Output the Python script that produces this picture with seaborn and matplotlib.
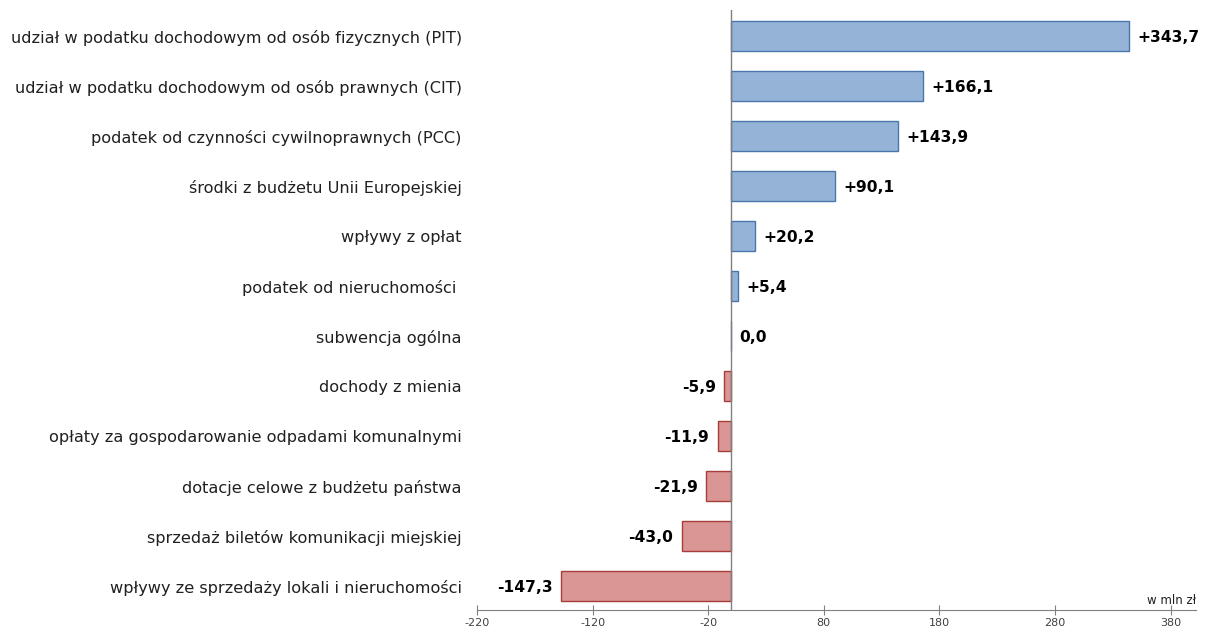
import pandas as pd
import numpy as np
import seaborn as sns
import matplotlib.pyplot as plt

# data (w mln zł)
categories = [
    "udział w podatku dochodowym od osób fizycznych (PIT)",
    "udział w podatku dochodowym od osób prawnych (CIT)",
    "podatek od czynności cywilnoprawnych (PCC)",
    "środki z budżetu Unii Europejskiej",
    "wpływy z opłat",
    "podatek od nieruchomości ",
    "subwencja ogólna",
    "dochody z mienia",
    "opłaty za gospodarowanie odpadami komunalnymi",
    "dotacje celowe z budżetu państwa",
    "sprzedaż biletów komunikacji miejskiej",
    "wpływy ze sprzedaży lokali i nieruchomości",
]
values = [343.7, 166.1, 143.9, 90.1, 20.2, 5.4, 0.0, -5.9, -11.9, -21.9, -43.0, -147.3]
xticks = [-220, -120, -20, 80, 180, 280, 380]

df = pd.DataFrame({"kategoria": categories, "zmiana": values})

pos_fill, pos_edge = "#95b3d7", "#4a76ad"
neg_fill, neg_edge = "#d99694", "#a83c3a"
fills = [pos_fill if v >= 0 else neg_fill for v in values]
edges = [pos_edge if v >= 0 else neg_edge for v in values]

plt.rcParams["font.family"] = ["DejaVu Sans"]
fig = plt.figure(figsize=(12.06, 6.32), dpi=100)
ax = fig.add_axes([477 / 1206, 1 - 610 / 632, (1196 - 477) / 1206, 600 / 632])

sns.barplot(data=df, x="zmiana", y="kategoria", hue="kategoria", palette=fills,
            saturation=1, legend=False, orient="h", width=0.6, ax=ax)
for patch, ec in zip(ax.patches, edges):
    patch.set_edgecolor(ec)
    patch.set_linewidth(1)

# value labels
for i, v in enumerate(values):
    txt = ("+" if v > 0 else "") + f"{v:.1f}".replace(".", ",")
    if v >= 0:
        ax.annotate(txt, (v, i), xytext=(6, -1), textcoords="offset points",
                    ha="left", va="center", fontsize=11.2, fontweight="bold")
    else:
        ax.annotate(txt, (v, i), xytext=(-6, -1), textcoords="offset points",
                    ha="right", va="center", fontsize=11.2, fontweight="bold")

ax.axvline(0, color="#808080", lw=1)
ax.set_xlim(-220, 402)
ax.set_ylim(11.48, -0.52)
ax.set_xticks(xticks)
ax.set_xticklabels([str(t) for t in xticks], fontsize=8, color="#404040")
ax.tick_params(axis="x", direction="inout", length=7, color="#808080", pad=2)
ax.tick_params(axis="y", length=0, pad=11, labelsize=11.6, labelcolor="#202020")
ax.set_xlabel("")
ax.set_ylabel("")
for s in ["top", "right", "left"]:
    ax.spines[s].set_visible(False)
ax.spines["bottom"].set_color("#808080")

ax.text(1.0, 0.005, "w mln zł", transform=ax.transAxes, ha="right", va="bottom",
        fontsize=8.5, color="#202020")

fig.savefig("out.png", dpi=100)
